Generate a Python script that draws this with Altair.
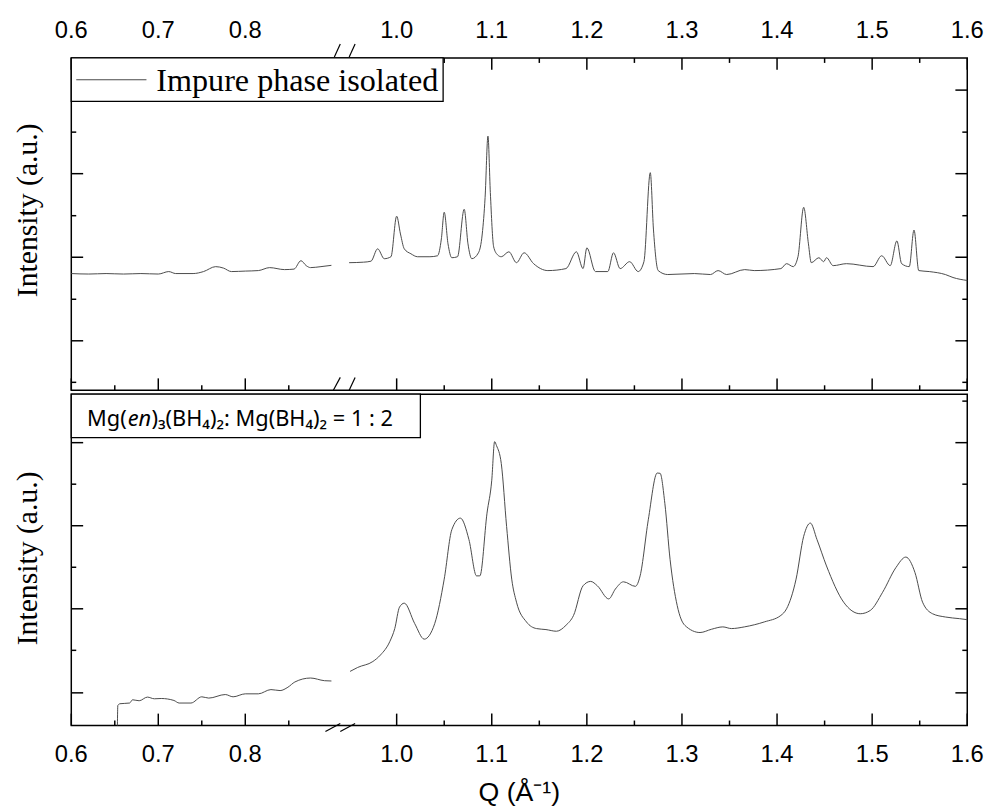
import altair as alt
import pandas as pd

# ---------------- data (Q in 1/Å, intensity in a.u.) ----------------
# Top panel: "Impure phase isolated"
top_left_q = [0.600, 0.620, 0.640, 0.660, 0.680, 0.700, 0.712, 0.720, 0.740, 0.752, 0.766,
              0.775, 0.784, 0.800, 0.815, 0.828, 0.845, 0.856, 0.864, 0.870, 0.875, 0.887, 0.899]
top_left_i = [118, 117.5, 118, 117.5, 118, 117.5, 120, 118, 118, 120, 125,
              123.5, 120, 120.5, 121, 124, 122, 122.5, 131, 126, 124, 125, 126.3]

top_right_q = [0.950, 0.965, 0.973, 0.980, 0.987, 0.994, 1.000, 1.004, 1.008, 1.015, 1.022,
               1.035, 1.043, 1.047, 1.050, 1.054, 1.058, 1.064, 1.071, 1.075, 1.079, 1.086,
               1.090, 1.093, 1.096, 1.0985, 1.102, 1.106, 1.110, 1.118, 1.126, 1.134, 1.144,
               1.159, 1.178, 1.189, 1.196, 1.200, 1.209, 1.222, 1.228, 1.235, 1.245, 1.254,
               1.260, 1.2667, 1.270, 1.275, 1.285, 1.313, 1.330, 1.338, 1.347, 1.366, 1.376,
               1.404, 1.410, 1.417, 1.422, 1.428, 1.433, 1.436, 1.444, 1.449, 1.452, 1.459,
               1.473, 1.501, 1.510, 1.519, 1.526, 1.531, 1.539, 1.544, 1.549, 1.560, 1.577,
               1.585, 1.600]
top_right_i = [129, 129.5, 130.5, 143, 133, 135, 176, 158, 143, 138, 135,
               135, 136, 153, 180, 148, 134, 135, 183, 148, 133, 139,
               158, 195, 257, 200, 145, 137, 135, 140, 129, 139, 128,
               121, 123, 140, 123, 144, 120, 120, 139, 123, 130, 120,
               130, 220, 163, 121, 117, 118, 117, 121, 117, 122, 121,
               123, 128, 125, 135, 185, 148, 129, 134, 130, 134, 126,
               128, 125, 136, 126, 151, 128, 125, 162, 121, 120, 117,
               114, 111]

# Bottom panel: Mg(en)3(BH4)2 : Mg(BH4)2 = 1 : 2
bot_left_q = [0.653, 0.6535, 0.656, 0.667, 0.6705, 0.678, 0.6875, 0.6955, 0.7034, 0.718,
              0.724, 0.7375, 0.750, 0.758, 0.777, 0.786, 0.800, 0.815, 0.8295, 0.840,
              0.849, 0.857, 0.875, 0.891, 0.899]
bot_left_i = [0, 20.3, 22, 22.7, 26, 25, 28.7, 27, 27.3, 25.3,
              22.7, 22.7, 29, 27.7, 31.3, 29, 32, 32, 36.3, 35.3,
              38.7, 44, 48, 45.3, 45]

bot_right_q = [0.951, 0.959, 0.975, 0.983, 0.9927, 0.998, 1.003, 1.008, 1.019, 1.029,
               1.040, 1.050, 1.058, 1.067, 1.076, 1.084, 1.0875, 1.095, 1.100, 1.103,
               1.105, 1.110, 1.1156, 1.121, 1.126, 1.1365, 1.147, 1.157, 1.168, 1.178,
               1.186, 1.196, 1.204, 1.211, 1.223, 1.230, 1.2385, 1.251, 1.256, 1.2646,
               1.274, 1.277, 1.282, 1.2875, 1.295, 1.303, 1.319, 1.331, 1.343, 1.352,
               1.3656, 1.3865, 1.404, 1.410, 1.420, 1.428, 1.435, 1.442, 1.452, 1.470,
               1.4875, 1.498, 1.511, 1.525, 1.5354, 1.545, 1.553, 1.5635, 1.577, 1.592,
               1.600]
bot_right_i = [54.7, 58.7, 64.7, 71.3, 84.7, 98, 119.7, 123.7, 103, 87.3,
               103, 148, 198, 209.7, 188, 151.3, 151.3, 214.7, 248, 287,
               283, 265, 201.3, 148, 124.7, 104.7, 98, 97, 95.3, 101.3,
               111.3, 141.3, 145.7, 141.3, 128, 138, 145.3, 140.7, 151.3, 208,
               255.3, 255, 224.7, 168, 121.3, 101.3, 94, 97.3, 99.7, 98,
               99.7, 104.7, 111.3, 118, 148, 191.3, 204.7, 188, 161.3, 124.7,
               113, 116.3, 134.7, 159.7, 170.3, 154.7, 124.7, 113, 109.7, 108,
               107]

# axis ticks and labels
x_major = [0.6, 0.7, 0.8, 1.0, 1.1, 1.2, 1.3, 1.4, 1.5, 1.6]
x_major_labels = ["0.6", "0.7", "0.8", "1.0", "1.1", "1.2", "1.3", "1.4", "1.5", "1.6"]
x_minor = [0.65, 0.75, 0.85, 1.05, 1.15, 1.25, 1.35, 1.45, 1.55]
top_y_major = [50, 134.5, 219, 303.5]
top_y_minor = [8, 92, 176.5, 261]
bot_y_major = [33, 118, 202, 286]
bot_y_minor = [76, 160, 244, 328]

X_TITLE = "Q (\u00c5\u207b\u00b9)"
Y_TITLE = "Intensity (a.u.)"

# ---------------- broken x axis: 0.6-0.9 | 0.95-1.6 ----------------
U_LEFT_END = 0.9323   # position of Q=0.9 on the drawing axis
LEFT_RATIO = 0.9148   # left part is slightly compressed


def to_u(q):
    return q if q >= 0.925 else U_LEFT_END - (0.9 - q) * LEFT_RATIO


def make_df(ql, il, qr, ir):
    rows = []
    for k, (q, v) in enumerate(zip(ql, il)):
        rows.append({"Q": q, "u": to_u(q), "I": v, "seg": "a", "k": k})
    for k, (q, v) in enumerate(zip(qr, ir)):
        rows.append({"Q": q, "u": to_u(q), "I": v, "seg": "b", "k": k})
    return pd.DataFrame(rows)


top_df = make_df(top_left_q, top_left_i, top_right_q, top_right_i)
bot_df = make_df(bot_left_q, bot_left_i, bot_right_q, bot_right_i)
xmaj_df = pd.DataFrame({"u": [to_u(q) for q in x_major], "lab": x_major_labels})
xmin_df = pd.DataFrame({"u": [to_u(q) for q in x_minor]})

W = 906
H_TOP = 336
H_BOT = 335
LINE_COLOR = "#4a4a4a"
SANS = "Liberation Sans, Arial, sans-serif"
SERIF = "Liberation Serif, Times New Roman, serif"

xscale = alt.Scale(domain=[to_u(0.6), 1.6], nice=False, zero=False)
X = alt.X("u:Q", scale=xscale, axis=None)
one = pd.DataFrame({"a": [0]})


def panel(df, height, ymaj, ymin, title_y, top_ticks, label_y, legend_layers, slashes,
          x_title_y=None):
    yscale = alt.Scale(domain=[0, height], nice=False, zero=False)
    layers = []
    # data curve
    layers.append(alt.Chart(df).mark_line(color=LINE_COLOR, strokeWidth=1,
                                          interpolate="monotone").encode(
        x=X,
        y=alt.Y("I:Q", scale=yscale, axis=None),
        detail="seg:N",
        order="k:Q"))
    # x ticks (inward)
    for d, ln in ((xmaj_df, 12), (xmin_df, 5)):
        if top_ticks:
            layers.append(alt.Chart(d).mark_rule(color="black", strokeWidth=1.5).encode(
                x=X, y=alt.value(0), y2=alt.value(ln)))
        layers.append(alt.Chart(d).mark_rule(color="black", strokeWidth=1.5).encode(
            x=X, y=alt.value(height), y2=alt.value(height - ln)))
    # y ticks (inward, both sides)
    for vals, ln in ((ymaj, 12), (ymin, 5)):
        d = pd.DataFrame({"I": vals})
        Y = alt.Y("I:Q", scale=yscale, axis=None)
        layers.append(alt.Chart(d).mark_rule(color="black", strokeWidth=1.5).encode(
            y=Y, x=alt.value(0), x2=alt.value(ln)))
        layers.append(alt.Chart(d).mark_rule(color="black", strokeWidth=1.5).encode(
            y=Y, x=alt.value(W), x2=alt.value(W - ln)))
    layers += legend_layers
    for (x1, y1, x2, y2) in slashes:
        layers.append(alt.Chart(one).mark_rule(color="black", strokeWidth=1.2).encode(
            x=alt.value(x1), y=alt.value(y1), x2=alt.value(x2), y2=alt.value(y2)))
    # x tick labels
    layers.append(alt.Chart(xmaj_df).mark_text(font=SANS, fontSize=24, color="black",
                                               baseline="middle", align="center").encode(
        x=X, y=alt.value(label_y), text="lab:N"))
    # y title
    layers.append(alt.Chart(one).mark_text(text=Y_TITLE, font=SERIF, fontSize=30,
                                           angle=270, color="black", baseline="middle",
                                           align="center").encode(
        x=alt.value(-44), y=alt.value(title_y)))
    if x_title_y is not None:
        layers.append(alt.Chart(one).mark_text(text=X_TITLE, font=SANS, fontSize=27,
                                               color="black", baseline="middle",
                                               align="center").encode(
            x=alt.value(W / 2), y=alt.value(x_title_y)))
    return alt.layer(*layers).properties(width=W, height=height)


# legend of the top panel
top_legend = [
    alt.Chart(one).mark_rect(fill="white", stroke="black", strokeWidth=1.3).encode(
        x=alt.value(0), x2=alt.value(376), y=alt.value(0), y2=alt.value(44)),
    alt.Chart(one).mark_rule(color=LINE_COLOR, strokeWidth=1.2).encode(
        x=alt.value(5), x2=alt.value(76), y=alt.value(22)),
    alt.Chart(one).mark_text(text="Impure phase isolated", font=SERIF,
                             fontSize=32.5, align="left", baseline="alphabetic",
                             color="black").encode(x=alt.value(86), y=alt.value(33)),
]

# label box of the bottom panel
bot_legend = [
    alt.Chart(one).mark_rect(fill="white", stroke="black", strokeWidth=1.3).encode(
        x=alt.value(0), x2=alt.value(353), y=alt.value(0), y2=alt.value(44)),
    alt.Chart(one).mark_text(text="Mg(", font="Noto Sans", fontSize=22, align="left",
                             baseline="alphabetic", color="black").encode(
        x=alt.value(16), y=alt.value(32)),
    alt.Chart(one).mark_text(text="en", font="Noto Sans", fontSize=22, fontStyle="italic",
                             align="left", baseline="alphabetic", color="black").encode(
        x=alt.value(57), y=alt.value(32)),
    alt.Chart(one).mark_text(text=")\u2083(BH\u2084)\u2082: Mg(BH\u2084)\u2082 = 1 : 2",
                             font="Noto Sans", fontSize=22, align="left",
                             baseline="alphabetic", color="black").encode(
        x=alt.value(81), y=alt.value(32)),
]

top_slashes = [(266, -1, 272, -14), (281, -1, 287, -14),
               (265, 336, 272, 323), (281, 336, 287, 323)]
bot_slashes = [(257, 341, 272, 333), (272, 341, 287, 333)]

top = panel(top_df, H_TOP, top_y_major, top_y_minor, 154, True, -27,
            top_legend, top_slashes)
bottom = panel(bot_df, H_BOT, bot_y_major, bot_y_minor, 166, False, 365,
               bot_legend, bot_slashes, x_title_y=403)

chart = (alt.vconcat(top, bottom, spacing=0)
         .resolve_scale(y="independent")
         .configure_view(stroke="black", strokeWidth=1.5)
         .properties(padding={"left": 4, "top": 6, "right": 5, "bottom": 5},
                     background="white"))

chart.save("out.html", embed_options={"renderer": "svg", "actions": False})
